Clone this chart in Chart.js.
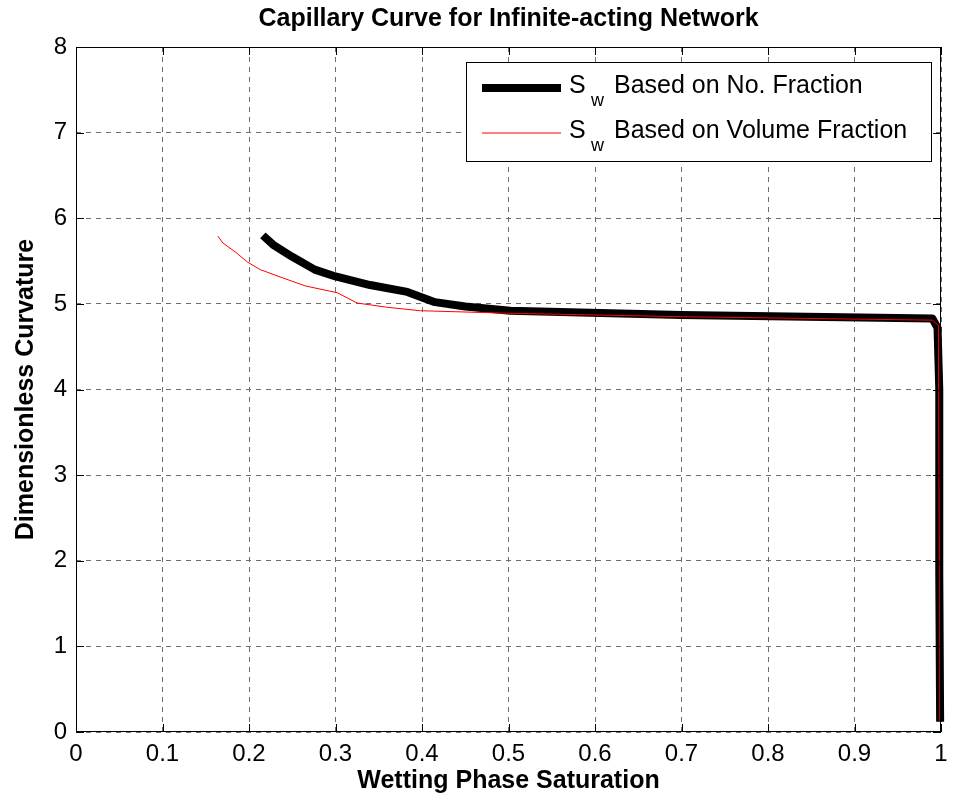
<!DOCTYPE html>
<html>
<head>
<meta charset="utf-8">
<script src="https://cdn.jsdelivr.net/npm/chart.js@4"></script>
<style>
  html, body { margin: 0; padding: 0; background: #fff; }
  #wrap { width: 953px; height: 804px; }
</style>
</head>
<body>
<div id="wrap"><canvas id="myChart" width="953" height="804"></canvas></div>
<script>
// Sw based on number fraction (thick black)
let swNumber = [0.216, 0.228, 0.250, 0.276, 0.300, 0.340, 0.383, 0.415, 0.450, 0.502, 0.700, 0.990, 0.996, 0.998, 0.998, 0.999];
let pcNumber = [5.80, 5.69, 5.55, 5.40, 5.32, 5.22, 5.14, 5.02, 4.97, 4.92, 4.87, 4.83, 4.72, 4.00, 1.85, 0.12];
// Sw based on volume fraction (thin red)
let swVolume = [0.164, 0.170, 0.185, 0.198, 0.213, 0.240, 0.265, 0.302, 0.325, 0.360, 0.398, 0.502, 0.700, 0.990, 0.997, 0.998, 0.999, 0.999];
let pcVolume = [5.79, 5.71, 5.60, 5.49, 5.40, 5.30, 5.21, 5.13, 5.01, 4.96, 4.92, 4.89, 4.85, 4.81, 4.75, 2.05, 1.95, 0.12];

let xTicks = [0, 0.1, 0.2, 0.3, 0.4, 0.5, 0.6, 0.7, 0.8, 0.9, 1];
let yTicks = [0, 1, 2, 3, 4, 5, 6, 7, 8];
let seriesNames = ['Based on No. Fraction', 'Based on Volume Fraction'];

let chartTitle = 'Capillary Curve for Infinite-acting Network';
let xTitle = 'Wetting Phase Saturation';
let yTitle = 'Dimensionless Curvature';

const FONT = 'Arial, "Liberation Sans", sans-serif';

function toPoints(xs, ys) {
  let pts = [];
  for (let i = 0; i < xs.length; i++) {
    pts.push({ x: xs[i], y: ys[i] });
  }
  return pts;
}

// frame, inner ticks, legend box and titles, matlab style
const matlabDecor = {
  id: 'matlabDecor',
  afterDraw(chart) {
    const ctx = chart.ctx;
    const a = chart.chartArea;
    const xs = chart.scales.x;
    const ys = chart.scales.y;
    ctx.save();

    // frame
    ctx.strokeStyle = '#000';
    ctx.lineWidth = 1;
    ctx.strokeRect(a.left + 0.5, a.top + 0.5, a.right - a.left - 1, a.bottom - a.top - 1);

    // tick marks pointing inside
    let tl = 8;
    ctx.beginPath();
    xTicks.forEach(function (v) {
      let px = Math.round(xs.getPixelForValue(v)) + 0.5;
      ctx.moveTo(px, a.bottom); ctx.lineTo(px, a.bottom - tl);
      ctx.moveTo(px, a.top); ctx.lineTo(px, a.top + tl);
    });
    yTicks.forEach(function (v) {
      let py = Math.round(ys.getPixelForValue(v)) + 0.5;
      ctx.moveTo(a.left, py); ctx.lineTo(a.left + tl, py);
      ctx.moveTo(a.right, py); ctx.lineTo(a.right - tl, py);
    });
    ctx.stroke();

    // legend
    let lx = 466, ly = 62, lw = 466, lh = 100;
    ctx.fillStyle = '#fff';
    ctx.fillRect(lx, ly, lw, lh);
    ctx.strokeStyle = '#000';
    ctx.lineWidth = 1;
    ctx.strokeRect(lx + 0.5, ly + 0.5, lw - 1, lh - 1);
    let rows = [
      { y: 88, color: '#000', width: 8 },
      { y: 133, color: '#ff0000', width: 1 }
    ];
    rows.forEach(function (r, i) {
      ctx.strokeStyle = r.color;
      ctx.lineWidth = r.width;
      ctx.beginPath();
      ctx.moveTo(482, r.y);
      ctx.lineTo(561, r.y);
      ctx.stroke();
      ctx.fillStyle = '#000';
      ctx.textBaseline = 'alphabetic';
      ctx.textAlign = 'left';
      ctx.font = '25px ' + FONT;
      ctx.fillText('S', 569, r.y + 5);
      ctx.font = '18px ' + FONT;
      ctx.fillText('w', 591, r.y + 18);
      ctx.font = '25px ' + FONT;
      ctx.fillText(seriesNames[i], 614, r.y + 5);
    });

    // titles
    let cx = (a.left + a.right) / 2;
    let cy = (a.top + a.bottom) / 2;
    ctx.fillStyle = '#000';
    ctx.textAlign = 'center';
    ctx.textBaseline = 'alphabetic';
    ctx.font = 'bold 25px ' + FONT;
    ctx.fillText(chartTitle, cx, 26);
    ctx.fillText(xTitle, cx, 788);
    ctx.translate(33, cy);
    ctx.rotate(-Math.PI / 2);
    ctx.fillText(yTitle, 0, 0);
    ctx.restore();
  }
};

let ctx = document.getElementById('myChart').getContext('2d');
let myChart = new Chart(ctx, {
  type: 'scatter',
  data: {
    datasets: [{
      label: seriesNames[0],
      data: toPoints(swNumber, pcNumber),
      showLine: true,
      borderColor: '#000',
      borderWidth: 8,
      pointRadius: 0,
      borderJoinStyle: 'round',
      tension: 0,
      clip: false,
      order: 2
    }, {
      label: seriesNames[1],
      data: toPoints(swVolume, pcVolume),
      showLine: true,
      borderColor: '#ff0000',
      borderWidth: 1,
      pointRadius: 0,
      tension: 0,
      clip: false,
      order: 1
    }]
  },
  options: {
    responsive: false,
    animation: false,
    layout: { padding: { top: 47, right: 12, left: 0, bottom: 0 } },
    plugins: {
      legend: { display: false },
      title: { display: false },
      tooltip: { enabled: false }
    },
    scales: {
      x: {
        type: 'linear',
        min: 0,
        max: 1,
        afterFit: function (s) { s.height = 72; s.paddingLeft = 0; s.paddingRight = 0; },
        afterBuildTicks: function (s) { s.ticks = xTicks.map(function (v) { return { value: v }; }); },
        ticks: {
          padding: 8,
          color: '#000',
          font: { family: FONT, size: 24 },
          maxRotation: 0,
          callback: function (v) { return String(v); }
        },
        grid: { color: '#6e6e6e', drawTicks: false, lineWidth: 1 },
        border: { display: false, dash: [5, 5] }
      },
      y: {
        type: 'linear',
        min: 0,
        max: 8,
        afterFit: function (s) { s.width = 76; s.paddingTop = 0; s.paddingBottom = 0; },
        afterBuildTicks: function (s) { s.ticks = yTicks.map(function (v) { return { value: v }; }); },
        ticks: {
          padding: 9,
          color: '#000',
          font: { family: FONT, size: 24 },
          callback: function (v) { return String(v); }
        },
        grid: { color: '#6e6e6e', drawTicks: false, lineWidth: 1 },
        border: { display: false, dash: [5, 5] }
      }
    }
  },
  plugins: [matlabDecor]
});
</script>
</body>
</html>
